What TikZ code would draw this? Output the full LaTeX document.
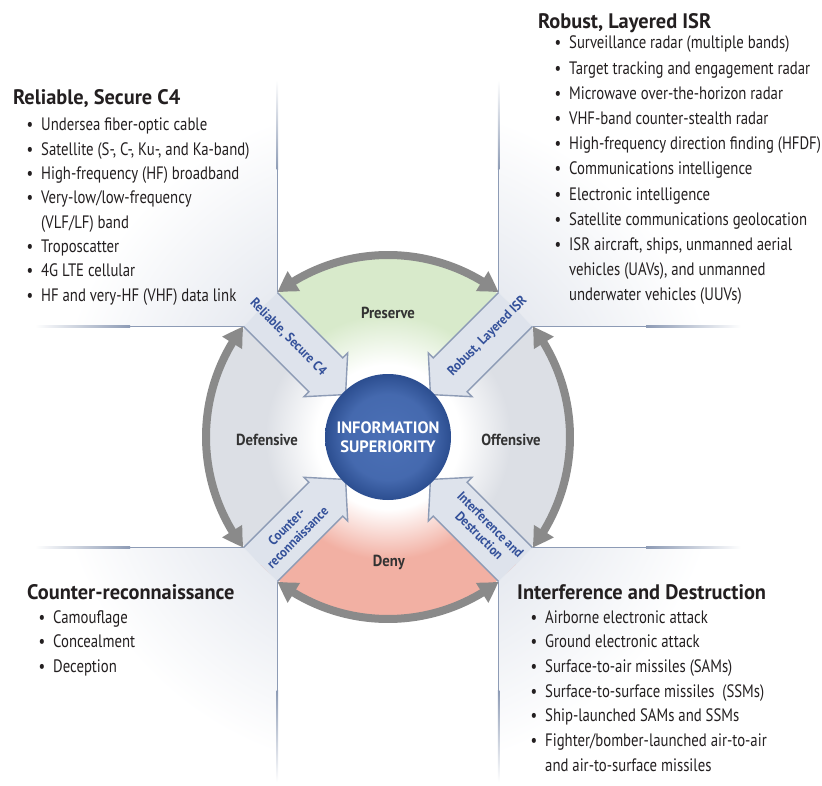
\documentclass[tikz,border=0pt]{standalone}
\usepackage{fontspec}
\setmainfont{PT Sans}
\newfontfamily\bulfont{PT Sans}[FakeStretch=0.82]
\newfontfamily\titfont{PT Sans}[FakeStretch=0.97]
\newfontfamily\labfont{PT Sans}[FakeStretch=0.92]
\usetikzlibrary{arrows.meta,bending,calc}

\definecolor{linec}{HTML}{8D9BB5}
\definecolor{arrfill}{HTML}{DEE3EC}
\definecolor{labblue}{HTML}{34519A}
\definecolor{grayarc}{HTML}{8A8A8A}
\definecolor{pgreen}{HTML}{D8EACB}
\definecolor{pgray}{HTML}{DCDFE5}
\definecolor{pred}{HTML}{F2B0A3}
\definecolor{panelc}{HTML}{E8EBF1}
\definecolor{bluein}{HTML}{4B70B6}
\definecolor{blueout}{HTML}{2C4E90}
\definecolor{txt}{HTML}{231F20}
\definecolor{seccol}{HTML}{333333}

% TikZ maps the path's bounding box to the central 50bp square (radius 25bp)
\pgfdeclareradialshading{sgreen}{\pgfpoint{0bp}{0bp}}{color(0bp)=(white); color(10bp)=(white); color(17bp)=(pgreen); color(25bp)=(pgreen); color(50bp)=(pgreen)}
\pgfdeclareradialshading{sgray}{\pgfpoint{0bp}{0bp}}{color(0bp)=(white); color(10bp)=(white); color(17bp)=(pgray); color(25bp)=(pgray); color(50bp)=(pgray)}
\pgfdeclareradialshading{sred}{\pgfpoint{0bp}{0bp}}{color(0bp)=(white); color(10bp)=(white); color(17bp)=(pred); color(25bp)=(pred); color(50bp)=(pred)}
\pgfdeclareradialshading{spanel}{\pgfpoint{0bp}{0bp}}{color(0bp)=(panelc); color(11.5bp)=(panelc); color(21bp)=(white); color(50bp)=(white)}
\pgfdeclareradialshading{sblue}{\pgfpoint{0bp}{0bp}}{color(0bp)=(bluein); color(17bp)=(bluein!80!blueout); color(25bp)=(blueout); color(50bp)=(blueout)}

\newcommand\bdot{\llap{•\hspace{8pt}}}

\tikzset{
  bul/.style={font=\bulfont\fontsize{18}{22}\selectfont, text=txt, inner sep=0pt, anchor=base west},
  tit/.style={font=\titfont\bfseries\fontsize{21}{24}\selectfont, text=txt, inner sep=0pt, anchor=base west},
  seclab/.style={font=\labfont\bfseries\fontsize{16}{19}\selectfont, text=seccol, inner sep=0pt},
  arrlab/.style={font=\labfont\bfseries\fontsize{13.5}{15.5}\selectfont, text=labblue, inner sep=0pt, align=center},
  arcarrow/.style={draw=grayarc, line width=8pt,
    {Triangle[length=20pt,width=22pt,bend]}-{Triangle[length=20pt,width=22pt,bend]}},
  blockfill/.style={fill=arrfill},
  blockline/.style={draw=linec, line width=1.4pt, line join=miter}
}

\newcommand\panellist[5]{%
  \foreach \t [count=\i from 0] in {#5} {
    \node[bul] (#1\i) at ({#2},{#3+\i*#4}) {\t};
  }%
}

\begin{document}
\begin{tikzpicture}[x=1pt,y=-1pt]
\useasboundingbox (0,0) rectangle (822,786);
\coordinate (C) at (388,437);

% panel backgrounds
\begin{scope}
  \clip (0,0) -- (277.4,0) -- (277.4,292.5) -- (243.5,326.4) -- (0,326.4) -- cycle;
  \shade[shading=spanel] (C) circle (400);
\end{scope}
\begin{scope}
  \clip (822,0) -- (498.6,0) -- (498.6,292.5) -- (532.5,326.4) -- (822,326.4) -- cycle;
  \shade[shading=spanel] (C) circle (400);
\end{scope}
\begin{scope}
  \clip (0,786) -- (277.4,786) -- (277.4,581.5) -- (243.5,547.6) -- (0,547.6) -- cycle;
  \shade[shading=spanel] (C) circle (400);
\end{scope}
\begin{scope}
  \clip (822,786) -- (498.6,786) -- (498.6,581.5) -- (532.5,547.6) -- (822,547.6) -- cycle;
  \shade[shading=spanel] (C) circle (400);
\end{scope}

% sectors
\begin{scope}
  \clip (C) -- (-12,37) -- (788,37) -- cycle;
  \shade[shading=sgreen] (C) circle (180.5);
\end{scope}
\begin{scope}
  \clip (C) -- (788,37) -- (788,837) -- cycle;
  \shade[shading=sgray] (C) circle (180.5);
\end{scope}
\begin{scope}
  \clip (C) -- (788,837) -- (-12,837) -- cycle;
  \shade[shading=sred] (C) circle (180.5);
\end{scope}
\begin{scope}
  \clip (C) -- (-12,837) -- (-12,37) -- cycle;
  \shade[shading=sgray] (C) circle (180.5);
\end{scope}

% panel border lines (fading at outer ends)
\shade[top color=white, bottom color=linec] (276.7,80) rectangle (278.1,170);
\fill[linec] (276.7,170) rectangle (278.1,292.5);
\shade[left color=white, right color=linec] (35,325.7) rectangle (130,327.1);
\fill[linec] (130,325.7) rectangle (243.5,327.1);

\shade[top color=white, bottom color=linec] (497.9,80) rectangle (499.3,170);
\fill[linec] (497.9,170) rectangle (499.3,292.5);
\shade[right color=white, left color=linec] (646,325.7) rectangle (741,327.1);
\fill[linec] (532.5,325.7) rectangle (646,327.1);

\shade[bottom color=white, top color=linec] (276.7,690) rectangle (278.1,782);
\fill[linec] (276.7,581.5) rectangle (278.1,690);
\shade[left color=white, right color=linec] (35,546.9) rectangle (130,548.3);
\fill[linec] (130,546.9) rectangle (243.5,548.3);

\shade[bottom color=white, top color=linec] (497.9,690) rectangle (499.3,782);
\fill[linec] (497.9,581.5) rectangle (499.3,690);
\shade[right color=white, left color=linec] (646,546.9) rectangle (741,548.3);
\fill[linec] (532.5,546.9) rectangle (646,548.3);

% block arrows
\foreach \ang in {135,45,-45,-135} {
  \begin{scope}[shift={(C)}, rotate=\ang]
    \fill[blockfill] (180.4,24) -- (88,24) -- (88,31) -- (60,0) -- (88,-31) -- (88,-24) -- (180.4,-24) -- cycle;
    \draw[blockline] (180.4,24) -- (88,24) -- (88,31) -- (60,0) -- (88,-31) -- (88,-24) -- (180.4,-24);
  \end{scope}
}

% gray double arcs
\draw[arcarrow] ($(C)+(-127.4:182)$) arc[start angle=-127.4, end angle=-52.6, radius=182];
\draw[arcarrow] ($(C)+(-37.4:182)$) arc[start angle=-37.4, end angle=37.4, radius=182];
\draw[arcarrow] ($(C)+(52.6:182)$) arc[start angle=52.6, end angle=127.4, radius=182];
\draw[arcarrow] ($(C)+(142.6:182)$) arc[start angle=142.6, end angle=217.4, radius=182];

% center
\node[circle, minimum size=126pt, inner sep=0pt, shading=sblue, shade, text=white,
      font=\bfseries\fontsize{16.5}{18.5}\selectfont, align=center] (info) at (C)
      {INFORMATION\\SUPERIORITY};

% sector labels
\node[seclab] (pres) at (388,313) {Preserve};
\node[seclab] (defe) at (267,440) {Defensive};
\node[seclab] (offe) at (511,440) {Offensive};
\node[seclab] (deny) at (389,562) {Deny};

% arrow labels
\node[arrlab, rotate=-45] (lc4) at (288.3,337.3) {Reliable, Secure C4};
\node[arrlab, rotate=45] (lisr) at (487.7,336.3) {Robust, Layered ISR};
\node[arrlab, rotate=45] (lcr) at (292,532) {Counter-\\reconnaissance};
\node[arrlab, rotate=-45] (lid) at (485,530) {Interference and\\Destruction};

% panel texts
\node[tit] (t1) at (13,105) {Reliable, Secure C4};
\panellist{a}{41}{131}{24.3}{{\bdot Undersea fiber-optic cable},{\bdot Satellite (S-, C-, Ku-, and Ka-band)},{\bdot High-frequency (HF) broadband},{\bdot Very-low/low-frequency},{(VLF/LF) band},{\bdot Troposcatter},{\bdot 4G LTE cellular},{\bdot HF and very-HF (VHF) data link}}

\node[tit] (t2) at (538,29) {Robust, Layered ISR};
\panellist{b}{569}{49}{25.2}{{\bdot Surveillance radar (multiple bands)},{\bdot Target tracking and engagement radar},{\bdot Microwave over-the-horizon radar},{\bdot VHF-band counter-stealth radar},{\bdot High-frequency direction finding (HFDF)},{\bdot Communications intelligence},{\bdot Electronic intelligence},{\bdot Satellite communications geolocation},{\bdot ISR aircraft, ships, unmanned aerial},{vehicles (UAVs), and unmanned},{underwater vehicles (UUVs)}}

\node[tit] (t3) at (27,599) {Counter-reconnaissance};
\panellist{c}{53}{623}{24.5}{{\bdot Camouflage},{\bdot Concealment},{\bdot Deception}}

\node[tit] (t4) at (517,599) {Interference and Destruction};
\panellist{d}{545}{623}{24.7}{{\bdot Airborne electronic attack},{\bdot Ground electronic attack},{\bdot Surface-to-air missiles (SAMs)},{\bdot Surface-to-surface missiles\ \ (SSMs)},{\bdot Ship-launched SAMs and SSMs},{\bdot Fighter/bomber-launched air-to-air},{and air-to-surface missiles}}
\end{tikzpicture}
\end{document}
